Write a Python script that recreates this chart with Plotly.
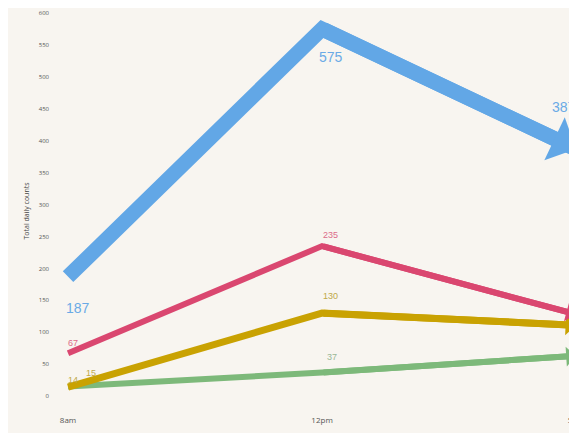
import plotly.graph_objects as go

times = ["8am", "12pm", "5pm"]
xpos = [0, 1, 2]
blue_vals = [187, 575, 387]
red_vals = [67, 235, 128]
yellow_vals = [14, 130, 111]
green_vals = [15, 37, 63]
y_ticks = [0, 50, 100, 150, 200, 250, 300, 350, 400, 450, 500, 550, 600]

series = [
    dict(vals=green_vals, color="#7DB97A", width=6, head=0.55, back=4),
    dict(vals=yellow_vals, color="#C9A202", width=7, head=0.5, back=4),
    dict(vals=red_vals, color="#DA4770", width=6, head=0.55, back=4),
    dict(vals=blue_vals, color="#62A7E6", width=15, head=0.53, back=10),
]

fig = go.Figure()
for s in series:
    fig.add_trace(go.Scatter(
        x=xpos, y=s["vals"], mode="lines",
        line=dict(color=s["color"], width=s["width"], backoff=[0, 0, s["back"]]),
        hoverinfo="skip", showlegend=False, cliponaxis=False,
    ))
    # arrow head ending at the 5pm value
    fig.add_annotation(
        x=xpos[2], y=s["vals"][2], ax=xpos[1], ay=s["vals"][1],
        xref="x", yref="y", axref="x", ayref="y", text="",
        showarrow=True, arrowhead=1, arrowsize=s["head"], arrowwidth=s["width"],
        arrowcolor=s["color"], standoff=0, startstandoff=0,
    )

# value labels: (series values, index, dx, dy, font size, colour)
label_specs = [
    (blue_vals, 0, 10, -31, 14, "#6AAAE6"),
    (blue_vals, 1, 9, -28, 14, "#6AAAE6"),
    (blue_vals, 2, -12, 42, 14, "#6AAAE6"),
    (red_vals, 0, 5, 10, 9, "#DC6B8A"),
    (red_vals, 1, 8, 11, 9, "#DC6B8A"),
    (red_vals, 2, 0, 13, 9, "#DC6B8A"),
    (yellow_vals, 0, 5, 7, 9, "#BFA94A"),
    (yellow_vals, 1, 8, 17, 9, "#BFA94A"),
    (yellow_vals, 2, 0, -24, 9, "#BFA94A"),
    (green_vals, 0, 23, 14, 9, "#BFA94A"),
    (green_vals, 1, 10, 15, 9, "#99B897"),
    (green_vals, 2, 0, -21, 9, "#99B897"),
]
for vals, i, dx, dy, fs, col in label_specs:
    fig.add_annotation(x=xpos[i], y=vals[i], text=str(vals[i]), showarrow=False,
                       xshift=dx, yshift=dy, xanchor="center", yanchor="middle",
                       font=dict(family="Liberation Sans, Arial", size=fs, color=col))

fig.update_layout(
    width=577, height=433,
    margin=dict(l=42, r=0, t=0, b=27),
    paper_bgcolor="#F8F5F0", plot_bgcolor="#F8F5F0",
    xaxis=dict(range=[-0.071, 2.035], tickvals=xpos, ticktext=times, automargin=False,
               showgrid=False, zeroline=False, showline=False,
               tickfont=dict(family="Open Sans", size=8, color="#555555")),
    yaxis=dict(range=[-28, 607.8], tickvals=y_ticks, showgrid=False, zeroline=False,
               showline=False, ticks="", automargin=False,
               tickfont=dict(family="Open Sans", size=6, color="#555555"),
               title=dict(text="Total daily counts", standoff=8,
                          font=dict(family="Open Sans", size=7, color="#444444"))),
)

fig.write_html("out.html")
